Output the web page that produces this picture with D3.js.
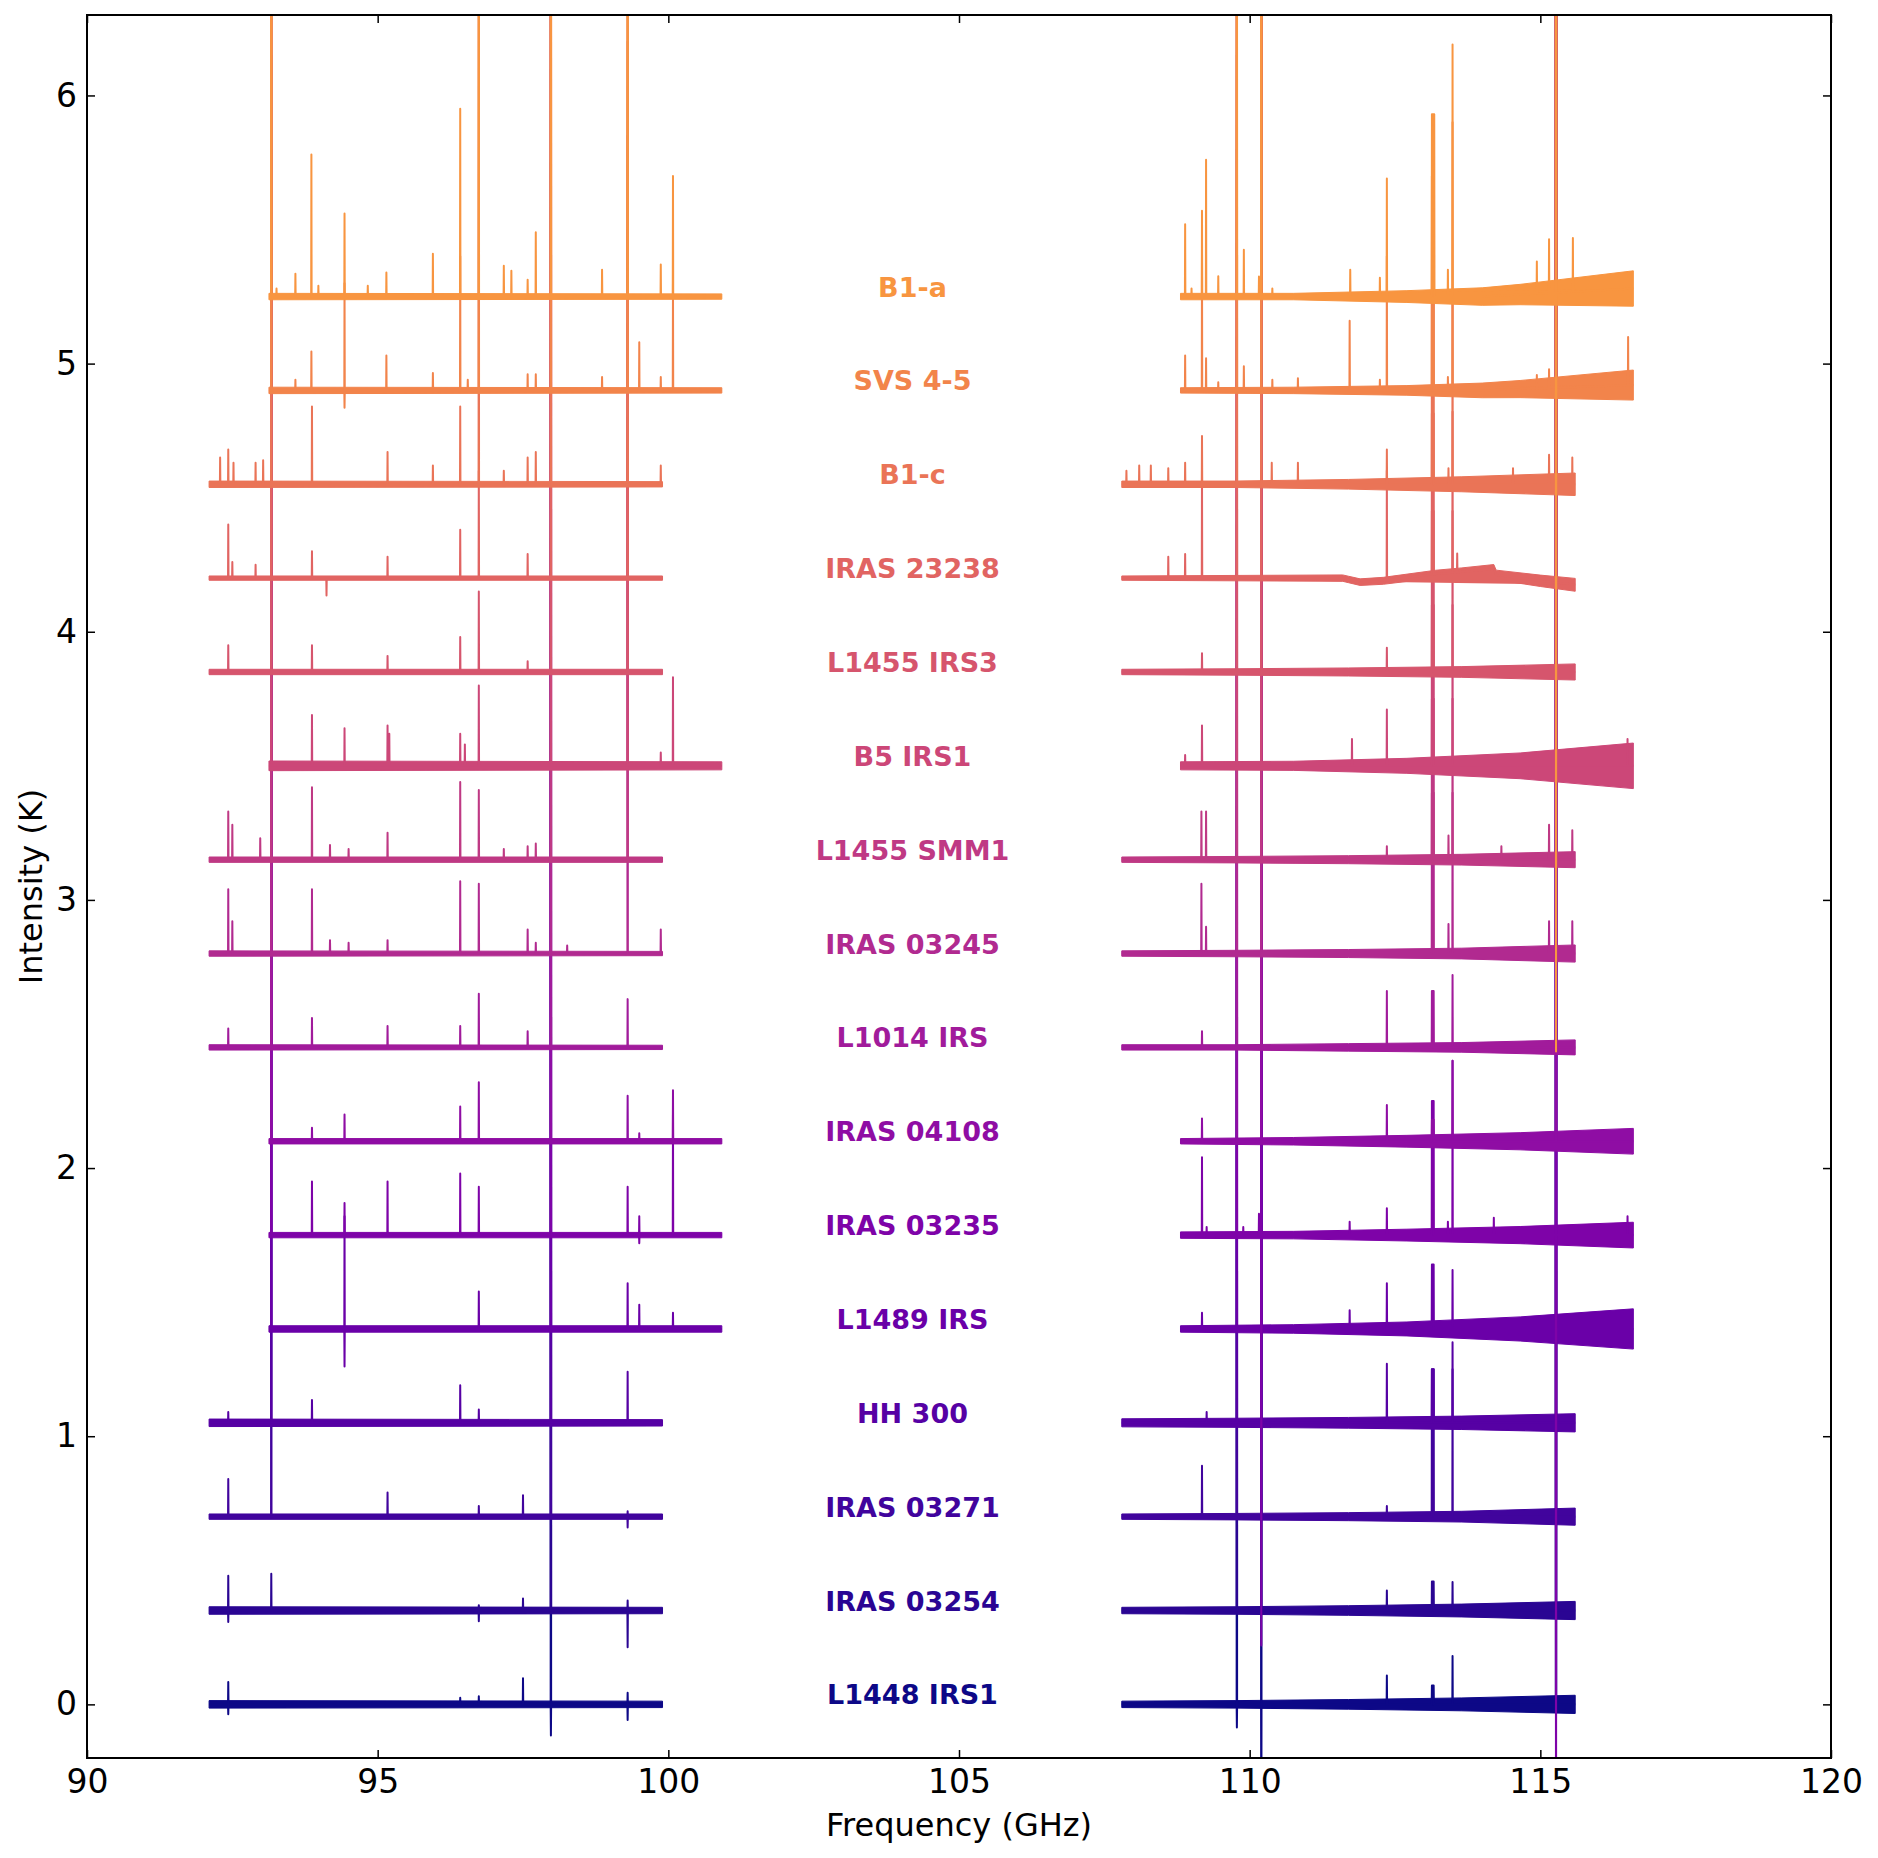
<!DOCTYPE html>
<html><head><meta charset="utf-8">
<script src="https://cdn.jsdelivr.net/npm/d3@7"></script>
<style>body{margin:0;background:#fff}</style>
</head><body>
<svg id="chart" width="1878" height="1858"></svg>
<script>
// ---------------- DATA ----------------
const sources = ["L1448 IRS1","IRAS 03254","IRAS 03271","HH 300","L1489 IRS","IRAS 03235","IRAS 04108","L1014 IRS","IRAS 03245","L1455 SMM1","B5 IRS1","L1455 IRS3","IRAS 23238","B1-c","SVS 4-5","B1-a"];
const offsets = [0,0.35,0.70,1.05,1.40,1.75,2.10,2.45,2.80,3.15,3.50,3.85,4.20,4.55,4.90,5.25];
const coverage = ["A","A","A","A","B","B","B","A","A","A","B","A","A","A","B","B"];
const rangesA = [[92.1,99.9],[107.8,115.6]];
const rangesB = [[93.13,100.92],[108.81,116.6]];
// noise half-width (K): lower band [start,end]; upper band 5 evenly spaced knots
const noiseLow = [[0.014,0.012],[0.014,0.012],[0.010,0.010],[0.014,0.012],[0.012,0.012],[0.010,0.010],[0.010,0.010],[0.010,0.008],[0.010,0.008],[0.010,0.010],[0.018,0.015],[0.010,0.010],[0.008,0.008],[0.012,0.010],[0.012,0.010],[0.012,0.010]];
const noiseHigh = [[0.012,0.014,0.018,0.024,0.034],[0.012,0.014,0.018,0.024,0.034],[0.010,0.012,0.015,0.020,0.032],[0.015,0.017,0.020,0.025,0.034],[0.012,0.016,0.026,0.045,0.075],[0.012,0.014,0.022,0.032,0.048],[0.010,0.014,0.022,0.032,0.048],[0.010,0.010,0.014,0.018,0.028],[0.010,0.012,0.015,0.020,0.032],[0.010,0.012,0.015,0.020,0.030],[0.015,0.017,0.028,0.048,0.085],[0.010,0.012,0.015,0.020,0.030],[0.008,0.010,0.012,0.015,0.024],[0.012,0.012,0.018,0.028,0.042],[0.010,0.012,0.018,0.032,0.056],[0.012,0.012,0.022,0.038,0.066]];
// baseline shape (freq GHz, K) for spectra with curved baselines
const baseIRAS23238 = [[107.8,0],[111.6,0],[111.9,-0.015],[112.3,-0.01],[113.2,0.015],[114.2,0.033],[114.24,0.012],[115.0,-0.01],[115.6,-0.025]];
const baseB1a = [[108.81,0],[114.0,0],[116.6,0.03]];
const baseSVS = [[108.81,0],[114.0,0],[116.6,0.02]];
// spectral lines: [freq GHz, peak K relative to baseline, (plateau width GHz)]
const linesL1448 = [[92.43,0.083],[92.43,-0.037],[96.42,0.025],[96.74,0.03],[97.50,0.097],[97.98,4],[97.98,-0.116],[99.30,0.043],[99.30,-0.058],
  [109.78,3],[109.78,-0.086],[110.20,6],[110.20,-0.6],[112.36,0.108],[113.15,0.07,0.03],[113.49,0.18],[115.27,20]];
const linesIRAS03254 = [[92.43,0.13],[92.43,-0.043],[93.17,0.137],[96.74,0.02],[96.74,-0.04],[97.50,0.045],[97.98,4],[99.30,0.037],[99.30,-0.137],
  [109.78,3],[110.20,6],[112.36,0.075],[113.15,0.108,0.03],[113.49,0.106],[115.27,20]];
const linesIRAS03271 = [[92.43,0.14],[93.17,3],[95.17,0.09],[96.74,0.04],[97.50,0.08],[97.98,4],[99.30,0.02],[99.30,-0.04],
  [109.18,0.19],[109.78,3],[110.20,6],[112.36,0.04],[113.15,0.55,0.03],[113.49,0.55],[115.27,20]];
const linesHH300 = [[92.43,0.04],[93.17,3],[93.87,0.085],[96.42,0.14],[96.74,0.05],[97.98,4],[99.30,0.19],
  [109.26,0.04],[109.78,3],[110.20,6],[112.36,0.22],[113.15,0.2,0.03],[113.49,0.3],[115.27,20]];
const linesL1489 = [[93.17,3],[94.43,0.42],[94.43,-0.14],[96.74,0.14],[97.98,4],[99.30,0.17],[99.50,0.09],[100.08,0.06],
  [109.18,0.06],[109.78,3],[110.20,6],[111.72,0.07],[112.36,0.17],[113.15,0.24,0.03],[113.49,0.22],[115.27,20]];
const linesIRAS03235 = [[93.17,3],[93.87,0.2],[94.43,0.12],[95.17,0.2],[96.42,0.23],[96.74,0.18],[97.98,4],[99.30,0.18],[99.50,0.07],[99.50,-0.03],[100.08,0.45],
  [109.18,0.29],[109.26,0.03],[109.78,3],[109.89,0.03],[110.16,0.08],[110.20,6],[110.20,-1.53],[111.72,0.05],[112.36,0.1],[113.15,0.5,0.03],[113.41,0.05],[113.49,0.65],[114.20,0.065],[115.27,20],[115.27,-3],[116.50,0.07]];
const linesIRAS04108 = [[93.17,3],[93.87,0.05],[94.43,0.1],[96.42,0.13],[96.74,0.22],[97.98,4],[99.30,0.17],[99.50,0.03],[100.08,0.19],
  [109.18,0.085],[109.78,3],[110.20,6],[112.36,0.135],[113.15,0.08,0.03],[113.49,0.3],[115.27,20]];
const linesL1014 = [[92.43,0.07],[93.17,3],[93.87,0.11],[95.17,0.08],[96.42,0.08],[96.74,0.2],[97.58,0.06],[97.98,4],[99.30,0.18],
  [109.18,0.06],[109.78,3],[110.20,6],[112.36,0.21],[113.15,0.21,0.03],[113.49,0.27],[115.27,20]];
const linesIRAS03245 = [[92.43,0.24],[92.50,0.12],[93.17,3],[93.87,0.24],[94.18,0.05],[94.50,0.04],[95.17,0.05],[96.42,0.27],[96.74,0.26],[97.58,0.09],[97.72,0.04],[97.98,4],[98.26,0.03],[99.30,2],[99.87,0.09],
  [109.17,0.26],[109.25,0.1],[109.78,3],[110.20,6],[113.15,0.6,0.03],[113.42,0.11],[113.49,0.6],[115.15,0.12],[115.27,20],[115.55,0.12]];
const linesSMM1 = [[92.43,0.18],[92.50,0.13],[92.98,0.08],[93.17,3],[93.87,0.27],[94.18,0.055],[94.50,0.04],[95.17,0.1],[96.42,0.29],[96.74,0.26],[97.17,0.04],[97.58,0.05],[97.72,0.06],[97.98,4],[99.30,2],
  [109.17,0.18],[109.25,0.18],[109.78,3],[110.20,6],[112.36,0.05],[113.15,0.6,0.03],[113.42,0.09],[113.49,0.6],[114.33,0.05],[115.15,0.13],[115.27,20],[115.55,0.11]];
const linesB5 = [[93.17,3],[93.87,0.19],[94.43,0.14],[95.17,0.15],[95.20,0.12],[96.42,0.12],[96.50,0.08],[96.74,0.3],[97.98,4],[99.30,2],[99.87,0.05],[100.08,0.33],
  [108.89,0.04],[109.18,0.15],[109.78,3],[110.20,6],[111.76,0.1],[112.36,0.21],[113.15,0.6,0.03],[113.49,0.6],[115.27,20],[116.50,0.1]];
const linesIRS3 = [[92.43,0.1],[93.17,3],[93.87,0.1],[95.17,0.06],[96.42,0.13],[96.74,0.3],[97.58,0.04],[97.98,4],[99.30,2],
  [109.18,0.07],[109.78,3],[110.20,6],[112.36,0.09],[113.15,0.6,0.03],[113.49,0.6],[115.27,20]];
const linesIRAS23238 = [[92.43,0.2],[92.50,0.06],[92.90,0.05],[93.17,3],[93.87,0.1],[94.12,-0.065],[95.17,0.08],[96.42,0.18],[96.74,0.4],[97.58,0.09],[97.98,4],[99.30,2],
  [108.60,0.08],[108.89,0.09],[109.18,0.39],[109.78,3],[110.20,6],[112.36,0.41],[113.15,0.6,0.03],[113.49,0.6],[113.57,0.07],[115.27,20]];
const linesB1c = [[92.29,0.1],[92.43,0.13],[92.52,0.08],[92.90,0.08],[93.03,0.09],[93.17,3],[93.87,0.29],[95.17,0.12],[95.95,0.07],[96.42,0.29],[96.74,2],[97.17,0.05],[97.58,0.1],[97.72,0.12],[97.98,4],[99.30,2],[99.87,0.07],
  [107.88,0.05],[108.10,0.07],[108.30,0.07],[108.60,0.06],[108.89,0.08],[109.18,0.18],[109.78,3],[110.20,6],[110.38,0.08],[110.83,0.08],[112.36,0.13],[113.15,0.7,0.03],[113.42,0.06],[113.49,0.7],[114.53,0.06],[115.15,0.11],[115.27,20],[115.55,0.1]];
const linesSVS = [[93.17,3],[93.585,0.04],[93.86,0.145],[94.43,0.4],[94.43,-0.065],[95.15,0.13],[95.95,0.065],[96.42,0.5],[96.55,0.04],[96.74,2],[97.58,0.06],[97.72,0.06],[97.98,4],[98.86,0.05],[99.30,2],[99.50,0.18],[99.87,0.05],[100.08,0.4],
  [108.89,0.13],[109.18,0.5],[109.25,0.12],[109.46,0.03],[109.78,3],[109.90,0.09],[110.20,6],[110.39,0.04],[110.83,0.045],[111.72,0.26],[112.24,0.04],[112.36,0.5],[113.15,0.8,0.03],[113.41,0.05],[113.49,1],[114.94,0.05],[115.15,0.07],[115.27,20],[116.51,0.18]];
const linesB1a = [[93.17,3],[93.26,0.03],[93.585,0.085],[93.86,0.53],[93.98,0.04],[94.43,0.31],[94.83,0.04],[95.15,0.09],[95.95,0.16],[96.42,0.70],[96.74,2],[97.17,0.115],[97.30,0.096],[97.58,0.063],[97.72,0.24],[97.98,4],[98.86,0.1],[99.30,2],[99.87,0.12],[100.08,0.45],
  [108.89,0.27],[109.00,0.03],[109.18,0.32],[109.25,0.51],[109.46,0.076],[109.78,3],[109.90,0.175],[110.16,0.075],[110.20,6],[110.39,0.03],[111.73,0.1],[112.24,0.07],[112.36,0.44],[113.155,0.68,0.04],[113.41,0.1],[113.49,0.94],[114.94,0.12],[115.15,0.2],[115.27,20],[115.27,-2.83],[115.56,0.2]];
const lineLists = [linesL1448,linesIRAS03254,linesIRAS03271,linesHH300,linesL1489,linesIRAS03235,linesIRAS04108,linesL1014,linesIRAS03245,linesSMM1,linesB5,linesIRS3,linesIRAS23238,linesB1c,linesSVS,linesB1a];
const baselineShapes = [[],[],[],[],[],[],[],[],[],[],[],[],baseIRAS23238,[],baseSVS,baseB1a];
const xTicks = [90,95,100,105,110,115,120];
const yTicks = [0,1,2,3,4,5,6];
const labelFreq = 104.2;

// ---------------- CHART ----------------
const svg = d3.select("#chart");
const x = d3.scaleLinear().domain([90,120]).range([87,1831]);
const y = d3.scaleLinear().domain([-0.2,6.3]).range([1758,15]);
const font = "'DejaVu Sans', sans-serif";

svg.append("defs").append("clipPath").attr("id","plotclip")
  .append("rect").attr("x",x(90)).attr("y",y(6.3)).attr("width",x(120)-x(90)).attr("height",y(-0.2)-y(6.3));

const plot = svg.append("g").attr("clip-path","url(#plotclip)");

function interp(knots, f){
  if(!knots.length) return 0;
  if(f<=knots[0][0]) return knots[0][1];
  for(let k=1;k<knots.length;k++){
    if(f<=knots[k][0]){
      const a=knots[k-1], b=knots[k];
      const t=(f-a[0])/(b[0]-a[0]);
      return a[1]+t*(b[1]-a[1]);
    }
  }
  return knots[knots.length-1][1];
}

const area = d3.area().x(d=>x(d.f)).y0(d=>y(d.lo)).y1(d=>y(d.hi));
const line = d3.line().x(d=>x(d[0])).y(d=>y(d[1]));

sources.forEach((name,i)=>{
  const col = d3.interpolatePlasma(i*0.05);
  const off = offsets[i];
  const ranges = coverage[i]==="A" ? rangesA : rangesB;
  const shape = baselineShapes[i];
  ranges.forEach((r,s)=>{
    const [f0,f1] = r;
    const nv = s===0 ? noiseLow[i] : noiseHigh[i];
    const nKnots = nv.map((v,k)=>[f0+k*(f1-f0)/(nv.length-1), v]);
    let fs = nKnots.map(d=>d[0]).concat(shape.map(d=>d[0]).filter(f=>f>f0&&f<f1));
    fs = Array.from(new Set(fs)).sort((a,b)=>a-b);
    const band = fs.map(f=>{const b=off+interp(shape,f), n=interp(nKnots,f); return {f, lo:b-n, hi:b+n};});
    plot.append("path").attr("d",area(band)).attr("fill",col).attr("stroke",col).attr("stroke-width",1);

    const evts = lineLists[i].filter(l=>l[0]>=f0&&l[0]<=f1).map(l=>({f:l[0],p:l[1],w:l[2]||0,line:true}))
      .concat(shape.filter(d=>d[0]>f0&&d[0]<f1).map(d=>({f:d[0],line:false})));
    evts.sort((a,b)=>a.f-b.f);
    const hw = 0.004;
    const pts = [[f0, off+interp(shape,f0)]];
    evts.forEach(e=>{
      const b = off+interp(shape,e.f);
      if(!e.line){pts.push([e.f,b]);return;}
      if(e.w>0){
        pts.push([e.f-e.w/2-hw,b],[e.f-e.w/2,b+e.p],[e.f+e.w/2,b+e.p],[e.f+e.w/2+hw,b]);
      } else {
        pts.push([e.f-hw,b],[e.f,b+e.p],[e.f+hw,b]);
      }
    });
    pts.push([f1, off+interp(shape,f1)]);
    plot.append("path").attr("d",line(pts)).attr("fill",col).attr("stroke",col)
      .attr("stroke-width",2).attr("stroke-linejoin","round");
  });
});

// source labels
svg.append("g").selectAll("text").data(sources).join("text")
  .attr("x",x(labelFreq)).attr("y",(d,i)=>y(offsets[i]))
  .attr("text-anchor","middle").attr("font-family",font).attr("font-weight","bold")
  .attr("font-size",27).attr("fill",(d,i)=>d3.interpolatePlasma(i*0.05)).text(d=>d);

// axes
const axB = svg.append("g").attr("transform",`translate(0,${y(-0.2)})`)
  .call(d3.axisBottom(x).tickValues(xTicks).tickSize(-8).tickPadding(12).tickFormat(d3.format("d")));
const axT = svg.append("g").attr("transform",`translate(0,${y(6.3)})`)
  .call(d3.axisTop(x).tickValues(xTicks).tickSize(-8).tickFormat(""));
const axL = svg.append("g").attr("transform",`translate(${x(90)},0)`)
  .call(d3.axisLeft(y).tickValues(yTicks).tickSize(-8).tickPadding(10).tickFormat(d3.format("d")));
const axR = svg.append("g").attr("transform",`translate(${x(120)},0)`)
  .call(d3.axisRight(y).tickValues(yTicks).tickSize(-8).tickFormat(""));
[axB,axT,axL,axR].forEach(a=>{
  a.select(".domain").remove();
  a.selectAll("line").attr("stroke","#000").attr("stroke-width",1.5);
  a.selectAll("text").attr("font-family",font).attr("font-size",33).attr("fill","#000");
});
svg.append("rect").attr("x",x(90)).attr("y",y(6.3)).attr("width",x(120)-x(90)).attr("height",y(-0.2)-y(6.3))
  .attr("fill","none").attr("stroke","#000").attr("stroke-width",2);

svg.append("text").attr("x",(x(90)+x(120))/2).attr("y",1836).attr("text-anchor","middle")
  .attr("font-family",font).attr("font-size",32).text("Frequency (GHz)");
svg.append("text").attr("transform",`translate(42,${(y(-0.2)+y(6.3))/2}) rotate(-90)`).attr("text-anchor","middle")
  .attr("font-family",font).attr("font-size",32).text("Intensity (K)");
</script>
</body></html>
